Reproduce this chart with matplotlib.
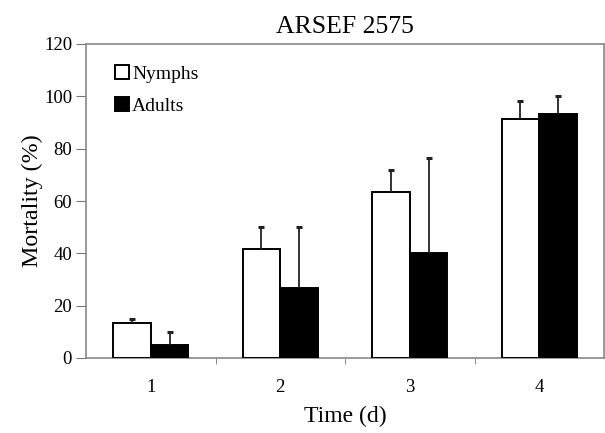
import matplotlib
matplotlib.use("Agg")
import matplotlib.pyplot as plt
import numpy as np

days = [1, 2, 3, 4]
nymphs = [13.5, 41.6, 63.3, 91.3]
nymphs_err = [1.5, 8.3, 8.4, 6.8]
adults = [5.1, 26.9, 40.0, 93.1]
adults_err = [4.8, 23.0, 36.4, 6.9]
yticks = [0, 20, 40, 60, 80, 100, 120]

plt.rcParams['font.family'] = ['Liberation Serif', 'DejaVu Serif']

fig = plt.figure(figsize=(6.05, 4.33), dpi=100)
W, H = 605, 433
ax = fig.add_axes([86 / W, 1 - 358 / H, (604 - 86) / W, (358 - 44) / H])

x = np.array(days, dtype=float)
bw = 0.29
ax.bar(x - bw / 2, nymphs, bw, color='white', edgecolor='black', linewidth=1.4,
       label='Nymphs', zorder=3)
ax.bar(x + bw / 2, adults, bw, color='black', edgecolor='black', linewidth=1.4,
       label='Adults', zorder=3)

for xs, vals, errs in [(x - bw / 2, nymphs, nymphs_err), (x + bw / 2, adults, adults_err)]:
    line, caps, bars = ax.errorbar(xs, vals, yerr=[np.zeros(4), errs], fmt='none',
                                   ecolor='#222222', elinewidth=1.3, capsize=2.5,
                                   capthick=2.2, zorder=4)
    if len(caps) == 2:
        caps[0].set_visible(False)

ax.set_xlim(0.5, 4.5)
ax.set_ylim(0, 120)
ax.set_yticks(yticks)
ax.set_xticks(days)
ax.set_xticks([1.5, 2.5, 3.5], minor=True)
ax.tick_params(axis='x', which='major', length=0, pad=15, labelsize=13.5)
ax.tick_params(axis='x', which='minor', length=4, color='#777777', direction='out')
ax.tick_params(axis='y', which='major', length=7, color='#777777', pad=3, labelsize=13.5, direction='out')
for s in ax.spines.values():
    s.set_color('#888888')
    s.set_linewidth(1.2)

ax.set_title('ARSEF 2575', fontsize=18.5, pad=8)
ax.set_ylabel('Mortality (%)', fontsize=17.3, labelpad=1)
ax.set_xlabel('Time (d)', fontsize=17, labelpad=7)

leg = ax.legend(loc='upper left', bbox_to_anchor=(0.03, 0.975), frameon=False,
                fontsize=14, handlelength=0.72, handleheight=0.72,
                handletextpad=0.15, labelspacing=0.7, borderaxespad=0.3)

fig.savefig('out.png', dpi=100)
